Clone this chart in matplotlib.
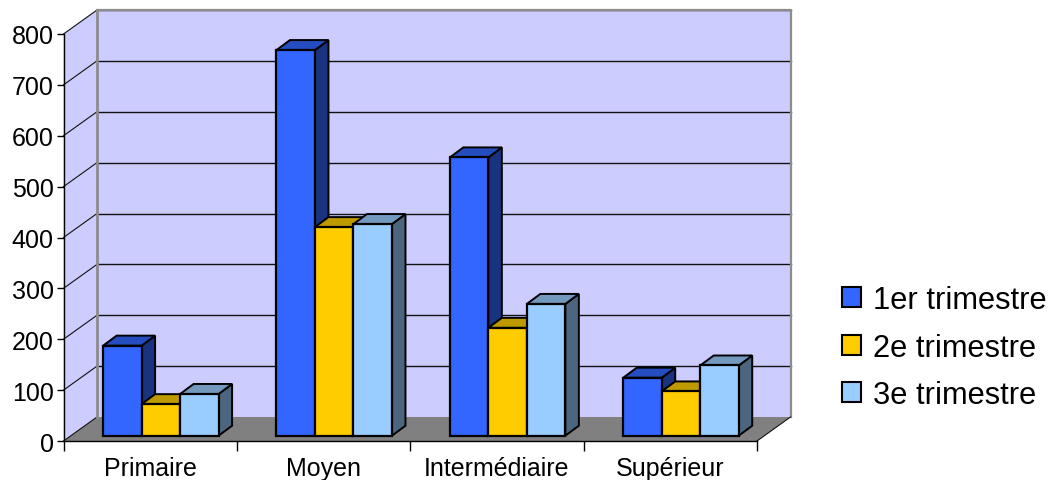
import numpy as np
import matplotlib
matplotlib.use("Agg")
import matplotlib.pyplot as plt
from matplotlib.patches import Polygon, Patch

plt.rcParams['font.family'] = ['Liberation Sans', 'DejaVu Sans']

categories = ['Primaire', 'Moyen', 'Intermédiaire', 'Supérieur']
trim1 = [177, 758, 547, 114]
trim2 = [62, 410, 212, 87]
trim3 = [82, 416, 259, 138]
series_names = ['1er trimestre', '2e trimestre', '3e trimestre']
yticks = [0, 100, 200, 300, 400, 500, 600, 700, 800]

W, H = 1050, 481
# front plane of the fake 3d box, in pixels
left, right, bottom, top = 63.5, 757.0, 442.0, 35.0

fig = plt.figure(figsize=(W / 100, H / 100), dpi=100)
ax = fig.add_axes([left / W, 1 - bottom / H, (right - left) / W, (bottom - top) / H])
ax.set_xlim(0, len(categories))
ax.set_ylim(0, 800)
ax.patch.set_visible(False)
for s in ax.spines.values():
    s.set_visible(False)

px_x = len(categories) / (right - left)
px_y = 800 / (bottom - top)
wall_dx, wall_dy = 33.5 * px_x, 24 * px_y
bar_dx, bar_dy = 13.5 * px_x, 10 * px_y
n = len(categories)


def poly(pts, color, edge='none', lw=0, z=1):
    ax.add_patch(Polygon(pts, closed=True, facecolor=color, edgecolor=edge,
                         linewidth=lw, zorder=z, clip_on=False, joinstyle='miter'))


# walls and floor
poly([(wall_dx, wall_dy), (n + wall_dx, wall_dy), (n + wall_dx, 800 + wall_dy), (wall_dx, 800 + wall_dy)], '#CCCCFF')
poly([(0, 0), (wall_dx, wall_dy), (wall_dx, 800 + wall_dy), (0, 800)], '#CCCCFF')
poly([(0, 0), (n, 0), (n + wall_dx, wall_dy), (wall_dx, wall_dy)], '#808080')

# gridlines on the walls
for v in yticks[1:]:
    ax.plot([wall_dx, n + wall_dx], [v + wall_dy] * 2, color='#111111', lw=1.0, zorder=2, clip_on=False)
for v in yticks:
    ax.plot([0, wall_dx], [v, v + wall_dy], color='#111111', lw=0.8, zorder=2, clip_on=False)
ax.plot([wall_dx, n + wall_dx, n + wall_dx], [800 + wall_dy, 800 + wall_dy, wall_dy],
        color='#8C8C8C', lw=1.6, zorder=3, clip_on=False)
ax.plot([wall_dx, wall_dx], [wall_dy, 800 + wall_dy], color='#8C8C8C', lw=2.0, zorder=3, clip_on=False)
ax.plot([n, n + wall_dx], [0, wall_dy], color='#111111', lw=0.8, zorder=3, clip_on=False)
ax.plot([0, n], [0, 0], color='black', lw=1.0, zorder=3, clip_on=False)
ax.plot([0, 0], [0, 800], color='black', lw=1.0, zorder=3, clip_on=False)

# bars, drawn left to right so that each one covers the side of the previous
colors = [('#3366FF', '#264DBF', '#1A3380'),
          ('#FFCC00', '#BF9900', '#806600'),
          ('#99CCFF', '#7399BF', '#4D6680')]
bar_w = 38.5 * px_x
start = 39.6 * px_x
base = 5.3 * px_y
for i in range(n):
    for j, vals in enumerate([trim1, trim2, trim3]):
        x0 = i + start + j * bar_w
        x1 = x0 + bar_w
        y1 = base + vals[i]
        front, topc, side = colors[j]
        poly([(x1, base), (x1 + bar_dx, base + bar_dy), (x1 + bar_dx, y1 + bar_dy), (x1, y1)],
             side, 'black', 1.4, z=4 + i + j * 0.1)
        poly([(x0, y1), (x1, y1), (x1 + bar_dx, y1 + bar_dy), (x0 + bar_dx, y1 + bar_dy)],
             topc, 'black', 1.4, z=4 + i + j * 0.1)
        ax.bar(x0, vals[i], bar_w, bottom=base, align='edge', color=front, edgecolor='black',
               linewidth=1.6, zorder=4.05 + i + j * 0.1, clip_on=False)

# axes ticks
ax.set_yticks(yticks)
ax.set_xticks(range(n + 1))
ax.set_xticklabels([])
ax.set_xticks(np.arange(n) + 0.5, categories, minor=True)
ax.tick_params(axis='y', length=5, width=1.0, labelsize=18, pad=2, color='black')
ax.tick_params(axis='x', which='major', length=7, width=1.0, color='black')
ax.tick_params(axis='x', which='minor', length=0, labelsize=18, pad=10.6)

handles = [Patch(facecolor=c[0], edgecolor='black', linewidth=1.5) for c in colors]
ax.legend(handles, series_names, loc='upper left', bbox_to_anchor=(842 / W, 1 - 286 / H),
          bbox_transform=fig.transFigure, frameon=False, fontsize=22.2, borderpad=0,
          borderaxespad=0, handlelength=0.62, handleheight=0.62, handletextpad=0.38,
          labelspacing=0.57)

fig.savefig('out.png', dpi=100)
